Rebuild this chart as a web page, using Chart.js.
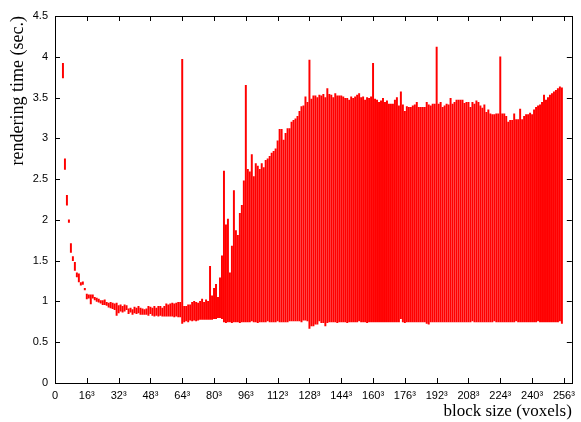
<!DOCTYPE html>
<html>
<head>
<meta charset="utf-8">
<script src="https://cdn.jsdelivr.net/npm/chart.js@4.4.0/dist/chart.umd.min.js"></script>
<style>
  html, body { margin: 0; padding: 0; background: #fff; }
  #wrap { width: 581px; height: 422px; }
</style>
</head>
<body>
<div id="wrap"><canvas id="chart" width="581" height="422"></canvas></div>
<script>
// block edge length (voxels), one bar per size
const blockSizes = [
  4, 5, 6, 7, 8, 9, 10, 11, 12, 13,
  14, 15, 16, 17, 18, 19, 20, 21, 22, 23,
  24, 25, 26, 27, 28, 29, 30, 31, 32, 33,
  34, 35, 36, 37, 38, 39, 40, 41, 42, 43,
  44, 45, 46, 47, 48, 49, 50, 51, 52, 53,
  54, 55, 56, 57, 58, 59, 60, 61, 62, 63,
  64, 65, 66, 67, 68, 69, 70, 71, 72, 73,
  74, 75, 76, 77, 78, 79, 80, 81, 82, 83,
  84, 85, 86, 87, 88, 89, 90, 91, 92, 93,
  94, 95, 96, 97, 98, 99, 100, 101, 102, 103,
  104, 105, 106, 107, 108, 109, 110, 111, 112, 113,
  114, 115, 116, 117, 118, 119, 120, 121, 122, 123,
  124, 125, 126, 127, 128, 129, 130, 131, 132, 133,
  134, 135, 136, 137, 138, 139, 140, 141, 142, 143,
  144, 145, 146, 147, 148, 149, 150, 151, 152, 153,
  154, 155, 156, 157, 158, 159, 160, 161, 162, 163,
  164, 165, 166, 167, 168, 169, 170, 171, 172, 173,
  174, 175, 176, 177, 178, 179, 180, 181, 182, 183,
  184, 185, 186, 187, 188, 189, 190, 191, 192, 193,
  194, 195, 196, 197, 198, 199, 200, 201, 202, 203,
  204, 205, 206, 207, 208, 209, 210, 211, 212, 213,
  214, 215, 216, 217, 218, 219, 220, 221, 222, 223,
  224, 225, 226, 227, 228, 229, 230, 231, 232, 233,
  234, 235, 236, 237, 238, 239, 240, 241, 242, 243,
  244, 245, 246, 247, 248, 249, 250, 251, 252, 253,
  254, 255
];

// fastest rendering time per block size (sec.)
const minTimes = [
  3.74, 2.62, 2.18, 1.97, 1.60, 1.50, 1.38, 1.30, 1.24, 1.20,
  1.21, 1.14, 1.03, 1.04, 0.97, 1.04, 1.02, 1.00, 0.99, 0.98,
  0.96, 0.96, 0.95, 0.93, 0.92, 0.91, 0.90, 0.83, 0.86, 0.88,
  0.87, 0.88, 0.90, 0.85, 0.87, 0.84, 0.86, 0.85, 0.86, 0.84,
  0.84, 0.84, 0.84, 0.83, 0.85, 0.83, 0.82, 0.83, 0.82, 0.83,
  0.82, 0.82, 0.82, 0.82, 0.82, 0.82, 0.81, 0.82, 0.81, 0.81,
  0.73, 0.75, 0.76, 0.75, 0.77, 0.76, 0.77, 0.76, 0.77, 0.78,
  0.78, 0.78, 0.78, 0.78, 0.78, 0.78, 0.79, 0.79, 0.80, 0.80,
  0.79, 0.75, 0.74, 0.75, 0.75, 0.74, 0.75, 0.75, 0.75, 0.74,
  0.75, 0.75, 0.75, 0.75, 0.75, 0.76, 0.75, 0.75, 0.74, 0.75,
  0.75, 0.75, 0.75, 0.76, 0.75, 0.75, 0.75, 0.75, 0.76, 0.75,
  0.75, 0.75, 0.75, 0.75, 0.76, 0.76, 0.76, 0.76, 0.76, 0.76,
  0.75, 0.77, 0.77, 0.76, 0.67, 0.70, 0.70, 0.72, 0.72, 0.76,
  0.74, 0.74, 0.70, 0.74, 0.75, 0.75, 0.75, 0.75, 0.74, 0.75,
  0.75, 0.75, 0.75, 0.74, 0.75, 0.75, 0.75, 0.75, 0.75, 0.76,
  0.75, 0.75, 0.75, 0.74, 0.75, 0.75, 0.75, 0.75, 0.75, 0.75,
  0.75, 0.75, 0.75, 0.75, 0.75, 0.75, 0.75, 0.75, 0.75, 0.75,
  0.79, 0.75, 0.74, 0.75, 0.75, 0.75, 0.75, 0.75, 0.75, 0.75,
  0.75, 0.75, 0.75, 0.73, 0.72, 0.75, 0.75, 0.75, 0.75, 0.75,
  0.75, 0.75, 0.75, 0.75, 0.75, 0.75, 0.75, 0.75, 0.75, 0.75,
  0.75, 0.75, 0.75, 0.75, 0.75, 0.75, 0.76, 0.75, 0.75, 0.75,
  0.75, 0.75, 0.75, 0.75, 0.75, 0.75, 0.75, 0.76, 0.75, 0.75,
  0.75, 0.75, 0.75, 0.75, 0.75, 0.75, 0.75, 0.75, 0.76, 0.75,
  0.75, 0.75, 0.75, 0.75, 0.75, 0.75, 0.75, 0.75, 0.75, 0.76,
  0.75, 0.75, 0.75, 0.75, 0.75, 0.75, 0.75, 0.75, 0.75, 0.75,
  0.76, 0.73
];

// slowest rendering time per block size (sec.)
const maxTimes = [
  3.92, 2.75, 2.30, 2.00, 1.71, 1.55, 1.48, 1.35, 1.34, 1.23,
  1.24, 1.16, 1.09, 1.08, 1.08, 1.08, 1.05, 1.04, 1.03, 1.01,
  1.01, 1.02, 0.99, 0.98, 0.99, 0.98, 0.97, 0.98, 0.95, 0.96,
  0.94, 0.96, 0.95, 0.91, 0.92, 0.90, 0.93, 0.92, 0.94, 0.92,
  0.91, 0.90, 0.91, 0.94, 0.93, 0.92, 0.94, 0.92, 0.94, 0.94,
  0.92, 0.94, 0.97, 0.96, 0.97, 0.98, 0.97, 0.98, 0.99, 0.99,
  3.97, 0.94, 0.94, 0.96, 0.96, 0.99, 1.00, 0.99, 0.98, 1.00,
  1.03, 0.99, 1.02, 1.00, 1.43, 1.07, 1.16, 1.21, 1.05, 1.29,
  1.56, 2.60, 1.94, 2.01, 1.35, 1.68, 2.36, 1.87, 1.81, 2.08,
  2.18, 2.48, 3.65, 2.62, 2.59, 2.80, 2.53, 2.69, 2.66, 2.62,
  2.69, 2.64, 2.73, 2.75, 2.78, 2.82, 2.84, 2.87, 2.97, 3.11,
  3.11, 2.98, 3.06, 3.12, 3.12, 3.20, 3.22, 3.24, 3.27, 3.33,
  3.39, 3.40, 3.51, 3.44, 3.96, 3.48, 3.52, 3.52, 3.50, 3.53,
  3.52, 3.54, 3.50, 3.61, 3.54, 3.53, 3.50, 3.55, 3.52, 3.52,
  3.52, 3.51, 3.49, 3.49, 3.47, 3.51, 3.49, 3.51, 3.53, 3.55,
  3.50, 3.51, 3.47, 3.50, 3.49, 3.51, 3.92, 3.48, 3.47, 3.44,
  3.46, 3.49, 3.44, 3.46, 3.42, 3.42, 3.42, 3.47, 3.50, 3.40,
  3.57, 3.41, 3.33, 3.39, 3.38, 3.38, 3.40, 3.41, 3.44, 3.38,
  3.38, 3.38, 3.38, 3.44, 3.41, 3.40, 3.42, 3.42, 4.12, 3.42,
  3.44, 3.38, 3.40, 3.42, 3.41, 3.49, 3.42, 3.44, 3.47, 3.47,
  3.47, 3.47, 3.43, 3.44, 3.44, 3.38, 3.44, 3.42, 3.46, 3.44,
  3.40, 3.37, 3.41, 3.32, 3.35, 3.30, 3.29, 3.29, 3.30, 3.30,
  4.00, 3.30, 3.30, 3.27, 3.20, 3.22, 3.22, 3.30, 3.23, 3.23,
  3.36, 3.23, 3.27, 3.29, 3.29, 3.31, 3.29, 3.35, 3.38, 3.40,
  3.41, 3.44, 3.53, 3.47, 3.50, 3.53, 3.55, 3.57, 3.59, 3.61,
  3.63, 3.62
];

const xTicks = [0, 16, 32, 48, 64, 80, 96, 112, 128, 144, 160, 176, 192, 208, 224, 240, 256];
const yTicks = [0, 0.5, 1, 1.5, 2, 2.5, 3, 3.5, 4, 4.5];

// gnuplot-like box around the plot with inward ticks on all sides
const frame = {
  id: 'frame',
  afterDatasetsDraw(chart) {
    const { ctx, chartArea: a, scales: { x, y } } = chart;
    ctx.save();
    ctx.strokeStyle = '#000';
    ctx.lineWidth = 1;
    ctx.beginPath();
    xTicks.forEach(v => {
      const px = Math.round(x.getPixelForValue(v)) + 0.5;
      ctx.moveTo(px, a.bottom); ctx.lineTo(px, a.bottom - 5);
      ctx.moveTo(px, a.top); ctx.lineTo(px, a.top + 5);
    });
    yTicks.forEach(v => {
      const py = Math.round(y.getPixelForValue(v)) + 0.5;
      ctx.moveTo(a.left, py); ctx.lineTo(a.left + 5, py);
      ctx.moveTo(a.right, py); ctx.lineTo(a.right - 5, py);
    });
    ctx.stroke();
    ctx.strokeRect(Math.round(a.left) + 0.5, Math.round(a.top) + 0.5,
      Math.round(a.right - a.left), Math.round(a.bottom - a.top));
    ctx.restore();
  }
};

const tickFont = { family: 'Liberation Sans', size: 11 };

new Chart(document.getElementById('chart'), {
  type: 'bar',
  data: {
    datasets: [{
      data: blockSizes.map((n, i) => ({ x: n, y: [minTimes[i], maxTimes[i]] })),
      backgroundColor: '#ff0000',
      borderWidth: 0,
      barThickness: 1.3
    }]
  },
  options: {
    responsive: false,
    animation: false,
    layout: { padding: { top: 16, right: 7, left: 0, bottom: 0 } },
    plugins: { legend: { display: false }, tooltip: { enabled: false } },
    scales: {
      x: {
        type: 'linear',
        min: 0,
        max: 260,
        offset: false,
        afterBuildTicks: s => { s.ticks = xTicks.map(v => ({ value: v })); },
        afterFit: s => { s.height = 39; },
        grid: { display: false, drawTicks: false },
        border: { display: false },
        ticks: {
          padding: 6,
          color: '#000',
          font: tickFont,
          autoSkip: false,
          maxRotation: 0,
          callback: v => v === 0 ? '0' : v + '³'
        },
        title: {
          display: true,
          text: 'block size (voxels)',
          align: 'end',
          color: '#000',
          font: { family: 'Liberation Serif', size: 17 },
          padding: { top: 0, bottom: 0 }
        }
      },
      y: {
        min: 0,
        max: 4.5,
        afterBuildTicks: s => { s.ticks = yTicks.map(v => ({ value: v })); },
        afterFit: s => { s.width = 55; },
        grid: { display: false, drawTicks: false },
        border: { display: false },
        ticks: {
          padding: 7,
          color: '#000',
          font: tickFont,
          callback: v => String(v)
        },
        title: {
          display: true,
          text: 'rendering time (sec.)',
          align: 'end',
          color: '#000',
          font: { family: 'Liberation Serif', size: 18 },
          padding: { top: 7, bottom: 0 }
        }
      }
    }
  },
  plugins: [frame]
});
</script>
</body>
</html>
